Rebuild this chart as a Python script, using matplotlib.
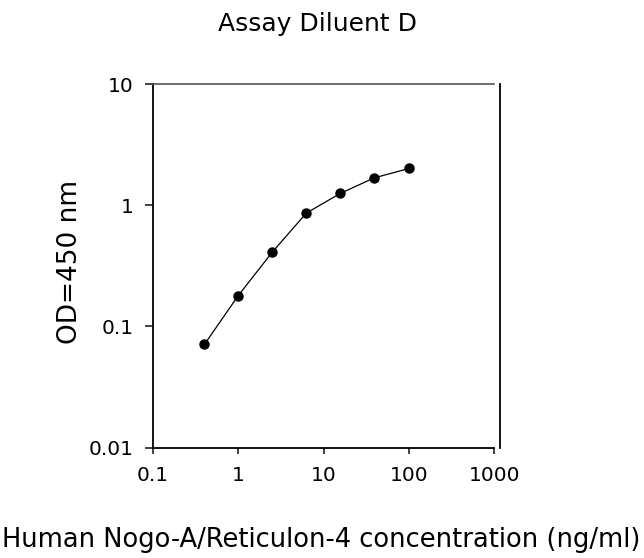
import numpy as np
from matplotlib import pyplot as plt
from matplotlib.ticker import FixedLocator, FixedFormatter, NullLocator

# Standard curve data
conc = [0.4, 1.0, 2.5, 6.25, 15.6, 39.0, 100.0]
od = [0.071, 0.18, 0.41, 0.86, 1.25, 1.68, 2.01]

x_ticks = [0.1, 1, 10, 100, 1000]
x_labels = ['0.1', '1', '10', '100', '1000']
y_ticks = [0.01, 0.1, 1, 10]
y_labels = ['0.01', '0.1', '1', '10']

plt.rcParams['font.family'] = ['DejaVu Sans']

fig = plt.figure(figsize=(6.44, 5.58), dpi=100)
ax = fig.add_axes([153 / 644, 1 - 447.7 / 558, (494.3 - 153) / 644, (447.7 - 84) / 558])

ax.plot(conc, od, '-', color='black', lw=0.9, marker='o', ms=6.5, mfc='black', mec='black')

ax.set_xscale('log')
ax.set_yscale('log')
ax.set_xlim(0.1, 1000)
ax.set_ylim(0.01, 10)

ax.xaxis.set_major_locator(FixedLocator(x_ticks))
ax.xaxis.set_major_formatter(FixedFormatter(x_labels))
ax.yaxis.set_major_locator(FixedLocator(y_ticks))
ax.yaxis.set_major_formatter(FixedFormatter(y_labels))
ax.xaxis.set_minor_locator(NullLocator())
ax.yaxis.set_minor_locator(NullLocator())

ax.tick_params(direction='out', width=1.2, labelsize=14.5, color='#222222')
ax.tick_params(axis='y', length=6, pad=8)
ax.tick_params(axis='x', length=4, pad=9)

for s in ['left', 'bottom']:
    ax.spines[s].set_linewidth(1.3)
ax.spines['right'].set_position(('outward', 4))
ax.spines['right'].set_linewidth(1.3)
ax.spines['top'].set_color('#555555')
ax.spines['top'].set_linewidth(1.2)

fig.text(321 / 644, 1 - 540 / 558, 'Human Nogo-A/Reticulon-4 concentration (ng/ml)',
         fontsize=18.5, ha='center', va='center')
fig.text(70 / 644, 1 - 262 / 558, 'OD=450 nm', fontsize=19, rotation=90,
         ha='center', va='center')
fig.text(318 / 644, 1 - 23.5 / 558, 'Assay Diluent D', fontsize=18, ha='center', va='center')

plt.savefig('out.png', dpi=100)
